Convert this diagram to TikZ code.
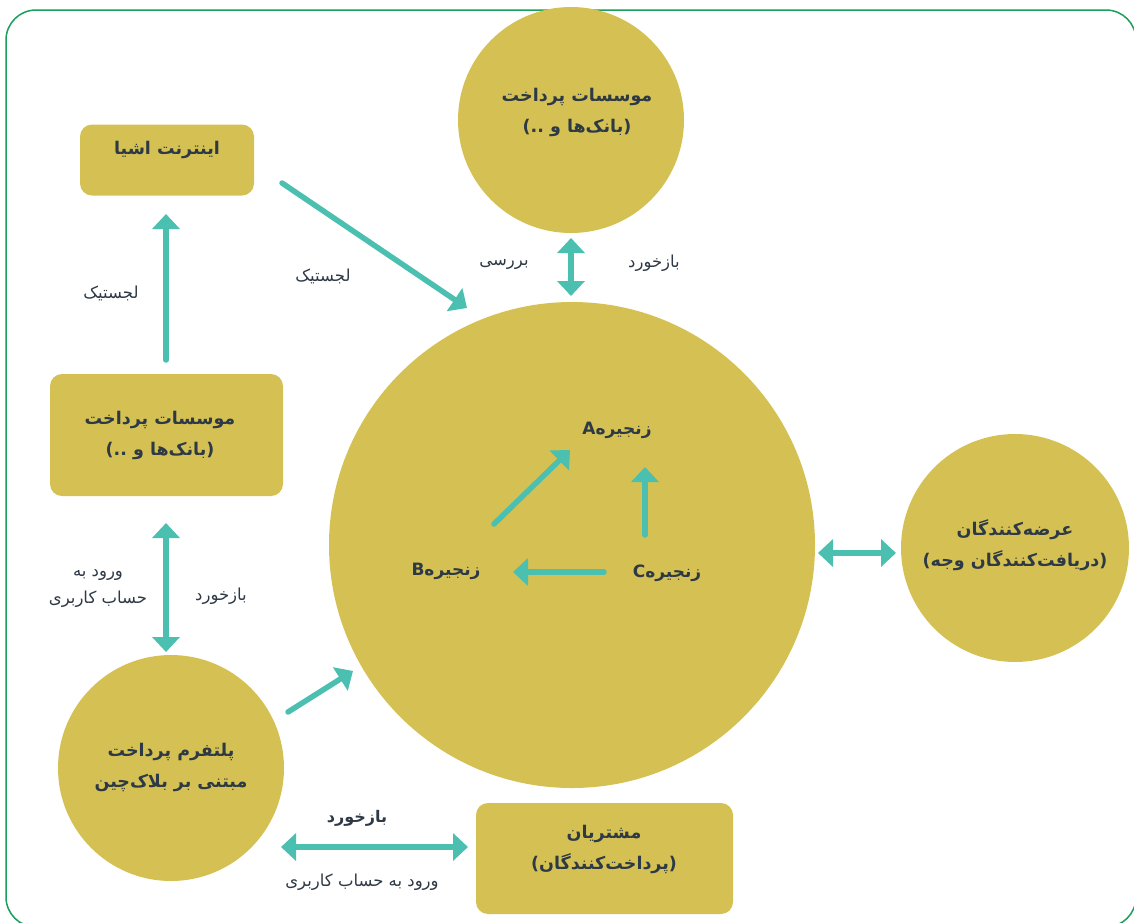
\documentclass[tikz,border=0pt]{standalone}
\usepackage{fontspec}
\usetikzlibrary{arrows.meta}
\TeXXeTstate=1
\newfontfamily\fa[Script=Arabic]{DejaVu Sans}
\definecolor{gold}{HTML}{D5C153}
\definecolor{ink}{HTML}{2D3945}
\definecolor{arrowc}{HTML}{4BBFB0}
\definecolor{framec}{HTML}{1A9E5C}
\newcommand{\rtltext}[1]{\beginR #1\endR}
\tikzset{
  disc/.style={circle, fill=gold, inner sep=0pt, draw=none},
  card/.style={rectangle, rounded corners=12pt, fill=gold, inner sep=0pt, draw=none},
  title/.style={text=ink, align=center, font=\fa\bfseries\fontsize{17.5}{31}\selectfont},
  chain/.style={text=ink, align=center, font=\fa\bfseries\fontsize{17}{22}\selectfont},
  lbl/.style={text=ink, align=center, font=\fa\fontsize{16.5}{27}\selectfont},
  lblb/.style={text=ink, align=center, font=\fa\bfseries\fontsize{16}{26}\selectfont},
  flow/.style={draw=arrowc, line width=5.5pt, line cap=round, -{Triangle[width=27pt,length=15pt]}},
  twoway/.style={draw=arrowc, line width=5.5pt, {Triangle[width=27pt,length=15pt]}-{Triangle[width=27pt,length=15pt]}},
}
\begin{document}
\begin{tikzpicture}[x=1pt,y=-1pt]
\useasboundingbox (0,0) rectangle (1134,922);
\begin{scope}
  \clip (0,0) rectangle (1134,922);
  \draw[framec, line width=1.5pt, rounded corners=30pt] (6,10) rectangle (1136,927);
\end{scope}

% main shapes
\node[disc, minimum size=226pt] (banktop) at (571,120) {};
\node[disc, minimum size=486pt] (core) at (572,545) {};
\node[disc, minimum size=228pt] (sellers) at (1015,548) {};
\node[disc, minimum size=226pt] (platform) at (171,768) {};
\node[card, minimum width=174pt, minimum height=71pt] (iot) at (167,160) {};
\node[card, minimum width=233pt, minimum height=122pt] (bankleft) at (166.5,435) {};
\node[card, minimum width=257pt, minimum height=111pt] (buyers) at (604.5,858.5) {};

% titles
\node[title] (banktopT) at (577,112) {\rtltext{موسسات پرداخت}\\\rtltext{(بانک‌ها و ..)}};
\node[title] (iotT) at (167,150) {\rtltext{اینترنت اشیا}};
\node[title] (bankleftT) at (160,435) {\rtltext{موسسات پرداخت}\\\rtltext{(بانک‌ها و ..)}};
\node[title] (sellersT) at (1015,545) {\rtltext{عرضه‌کنندگان}\\\rtltext{(دریافت‌کنندگان وجه)}};
\node[title] (platformT) at (171,767) {\rtltext{پلتفرم پرداخت}\\\rtltext{مبتنی بر بلاک‌چین}};
\node[title] (buyersT) at (604,849) {\rtltext{مشتریان}\\\rtltext{(پرداخت‌کنندگان)}};

% chains inside the core
\node[chain] (chA) at (617,430) {\rtltext{زنجیرهA}};
\node[chain] (chB) at (446,571) {\rtltext{زنجیرهB}};
\node[chain] (chC) at (667,573) {\rtltext{زنجیرهC}};

% labels
\node[lbl] (l1) at (111,293) {\rtltext{لجستیک}};
\node[lbl] (l2) at (323,276) {\rtltext{لجستیک}};
\node[lbl] (l3) at (504,264) {\rtltext{بررسی}};
\node[lbl] (l4) at (654,263) {\rtltext{بازخورد}};
\node[lbl] (l5) at (98,589) {\rtltext{ورود به}\\\rtltext{حساب کاربری}};
\node[lbl] (l6) at (221,596) {\rtltext{بازخورد}};
\node[lblb] (l7) at (357,818) {\rtltext{بازخورد}};
\node[lbl] (l8) at (362,882) {\rtltext{ورود به حساب کاربری}};

% connector end points
\coordinate (a1s) at (166,360); \coordinate (a1e) at (166,214);
\coordinate (a2s) at (282,183); \coordinate (a2e) at (467,308);
\coordinate (a3s) at (571,238); \coordinate (a3e) at (571,296);
\coordinate (a4s) at (166,523); \coordinate (a4e) at (166,652);
\coordinate (a5s) at (288,712); \coordinate (a5e) at (353,671);
\coordinate (a6s) at (818,553); \coordinate (a6e) at (896,553);
\coordinate (a7s) at (281,847); \coordinate (a7e) at (468,847);
\coordinate (b1s) at (494,524); \coordinate (b1e) at (570,450);
\coordinate (b2s) at (645,535); \coordinate (b2e) at (645,467);
\coordinate (b3s) at (604,572); \coordinate (b3e) at (513,572);

% connectors
\draw[flow] (a1s) -- (a1e);
\draw[flow] (a2s) -- (a2e);
\draw[twoway] (a3s) -- (a3e);
\draw[twoway] (a4s) -- (a4e);
\draw[flow] (a5s) -- (a5e);
\draw[twoway] (a6s) -- (a6e);
\draw[twoway] (a7s) -- (a7e);
\draw[flow] (b1s) -- (b1e);
\draw[flow] (b2s) -- (b2e);
\draw[flow] (b3s) -- (b3e);
\end{tikzpicture}
\end{document}
